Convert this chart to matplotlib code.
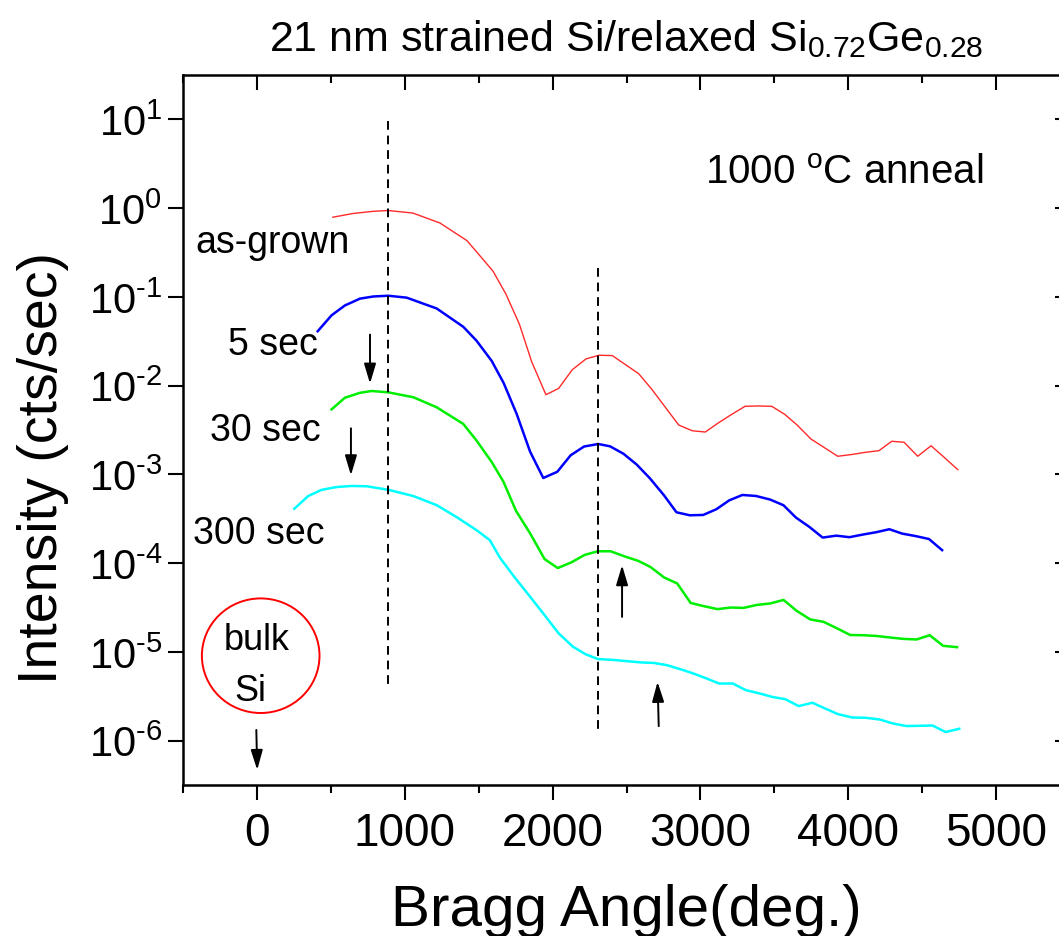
import numpy as np
import matplotlib.pyplot as plt
from matplotlib import font_manager
from matplotlib.patches import Ellipse

# шрифти
names = {f.name for f in font_manager.fontManager.ttflist}
narrow = 'Liberation Sans Narrow' if 'Liberation Sans Narrow' in names else 'Liberation Sans'
plt.rcParams['font.family'] = ['Liberation Sans', 'DejaVu Sans']
plt.rcParams['mathtext.fontset'] = 'custom'
plt.rcParams['mathtext.rm'] = 'Liberation Sans'
plt.rcParams['mathtext.default'] = 'regular'

# as-grown
x_asgrown = [514, 650, 785, 886, 1055, 1238, 1421, 1509, 1597, 1685, 1776, 1859, 1955,
             2041, 2133, 2226, 2314, 2404, 2583, 2671, 2853, 2945, 3033, 3121, 3212,
             3302, 3392, 3482, 3570, 3654, 3748, 3929, 4019, 4114, 4208, 4294, 4378,
             4470, 4560, 4650, 4741]
y_asgrown = [7.9e-1, 8.7e-1, 9.2e-1, 9.4e-1, 8.8e-1, 6.8e-1, 4.3e-1, 2.9e-1, 1.95e-1,
             1.07e-1, 4.9e-2, 1.85e-2, 7.9e-3, 9.3e-3, 1.51e-2, 2.0e-2, 2.2e-2, 2.18e-2,
             1.36e-2, 9.1e-3, 3.6e-3, 3.1e-3, 3.0e-3, 3.8e-3, 4.75e-3, 5.85e-3, 5.9e-3,
             5.85e-3, 4.75e-3, 3.6e-3, 2.5e-3, 1.6e-3, 1.67e-3, 1.77e-3, 1.85e-3,
             2.36e-3, 2.3e-3, 1.6e-3, 2.1e-3, 1.55e-3, 1.13e-3]

# 5 sec
x_5s = [411, 505, 595, 697, 787, 889, 1013, 1216, 1396, 1486, 1588, 1669, 1757, 1848,
        1937, 2032, 2122, 2213, 2309, 2389, 2479, 2569, 2659, 2754, 2838, 2928, 3019,
        3108, 3195, 3284, 3376, 3472, 3562, 3646, 3737, 3827, 3919, 4008, 4100, 4189,
        4278, 4365, 4454, 4546, 4635]
y_5s = [4.1e-2, 6.2e-2, 8.0e-2, 9.55e-2, 1.01e-1, 1.03e-1, 9.8e-2, 7.4e-2, 4.6e-2,
        3.2e-2, 1.9e-2, 1.07e-2, 4.8e-3, 1.8e-3, 9.1e-4, 1.07e-3, 1.64e-3, 2.06e-3,
        2.2e-3, 2.07e-3, 1.71e-3, 1.29e-3, 9.0e-4, 5.8e-4, 3.74e-4, 3.46e-4, 3.49e-4,
        4.05e-4, 5.1e-4, 5.86e-4, 5.71e-4, 5.2e-4, 4.49e-4, 3.26e-4, 2.56e-4, 1.94e-4,
        2.04e-4, 1.96e-4, 2.1e-4, 2.23e-4, 2.41e-4, 2.15e-4, 2.02e-4, 1.87e-4, 1.4e-4]

# 30 sec
x_30s = [505, 595, 697, 776, 889, 1058, 1216, 1396, 1486, 1588, 1667, 1752, 1849, 1946,
         2035, 2127, 2218, 2307, 2392, 2488, 2580, 2664, 2754, 2843, 2934, 3024, 3116,
         3205, 3292, 3381, 3472, 3562, 3651, 3743, 3833, 3919, 4013, 4104, 4193, 4286,
         4375, 4462, 4551, 4642, 4736]
y_30s = [5.4e-3, 7.3e-3, 8.3e-3, 8.7e-3, 8.4e-3, 7.4e-3, 5.7e-3, 3.7e-3, 2.4e-3, 1.38e-3,
         8.3e-4, 3.9e-4, 2.15e-4, 1.11e-4, 8.8e-5, 1.02e-4, 1.24e-4, 1.36e-4, 1.36e-4,
         1.19e-4, 1.06e-4, 9.0e-5, 6.9e-5, 5.9e-5, 3.56e-5, 3.27e-5, 3.03e-5, 3.16e-5,
         3.13e-5, 3.38e-5, 3.51e-5, 3.85e-5, 2.9e-5, 2.32e-5, 2.18e-5, 1.86e-5, 1.55e-5,
         1.54e-5, 1.51e-5, 1.45e-5, 1.4e-5, 1.38e-5, 1.54e-5, 1.17e-5, 1.13e-5]

# 300 sec
x_300s = [253, 347, 438, 539, 640, 742, 889, 1058, 1216, 1351, 1486, 1576, 1644, 1741,
          1849, 1946, 2042, 2139, 2223, 2307, 2416, 2506, 2601, 2686, 2771, 2862, 2954,
          3043, 3127, 3219, 3308, 3400, 3489, 3574, 3665, 3757, 3844, 3930, 4027, 4116,
          4213, 4302, 4394, 4483, 4570, 4659, 4751]
y_300s = [4.1e-4, 5.7e-4, 6.7e-4, 7.2e-4, 7.4e-4, 7.35e-4, 6.7e-4, 5.7e-4, 4.5e-4, 3.3e-4,
          2.35e-4, 1.81e-4, 1.15e-4, 7.0e-5, 4.16e-5, 2.59e-5, 1.61e-5, 1.14e-5, 9.4e-6,
          8.3e-6, 8.1e-6, 7.85e-6, 7.6e-6, 7.5e-6, 7.1e-6, 6.4e-6, 5.7e-6, 5.0e-6, 4.4e-6,
          4.4e-6, 3.7e-6, 3.4e-6, 3.1e-6, 2.93e-6, 2.45e-6, 2.67e-6, 2.3e-6, 1.99e-6,
          1.82e-6, 1.81e-6, 1.73e-6, 1.56e-6, 1.46e-6, 1.47e-6, 1.48e-6, 1.25e-6, 1.36e-6]

series_labels = ['as-grown', '5 sec', '30 sec', '300 sec']
colors = ['#ff2a2a', '#0000ff', '#00ee00', '#00ffff']
x_major = [0, 1000, 2000, 3000, 4000, 5000]
y_exponents = [1, 0, -1, -2, -3, -4, -5, -6]

fig = plt.figure(figsize=(10.59, 9.37), dpi=100)
pos = [183 / 1059, 1 - 786 / 937, 887 / 1059, 710 / 937]
ax = fig.add_axes(pos)

ax.plot(x_asgrown, y_asgrown, color=colors[0], lw=1.0)
ax.plot(x_5s, y_5s, color=colors[1], lw=1.8)
ax.plot(x_30s, y_30s, color=colors[2], lw=1.8)
ax.plot(x_300s, y_300s, color=colors[3], lw=1.8)

# пунктирні лінії
ax.plot([890, 890], [9.7, 4.2e-6], color='k', lw=1.4, dashes=(4.5, 3))
ax.plot([2307, 2307], [2.1e-1, 1.3e-6], color='k', lw=1.4, dashes=(4.5, 3))

ax.set_yscale('log')
ax.set_xlim(-500, 5500)
ax.set_ylim(10 ** -6.5, 10 ** 1.5)
ax.set_xticks(x_major)
ax.set_xticks(np.arange(-500, 5501, 1000), minor=True)
ax.set_yticks([10.0 ** e for e in y_exponents])
ax.set_yticklabels([r'$10^{%s}$' % str(e).replace('-', '\u2010') for e in y_exponents])
ax.yaxis.set_minor_locator(plt.NullLocator())

for s in ax.spines.values():
    s.set_linewidth(1.8)
ax.tick_params(axis='x', which='major', direction='out', length=11, width=1.5,
               labelsize=33, pad=8)
ax.tick_params(axis='x', which='minor', direction='out', length=6, width=1.5)
ax.tick_params(axis='y', which='major', direction='out', length=11, width=1.5,
               labelsize=30, pad=4)
for lab in ax.get_xticklabels():
    lab.set_fontfamily(narrow)

# верхні і праві засічки всередину (окрема прозора вісь)
ax2 = fig.add_axes(pos, frameon=False)
ax2.set_yscale('log')
ax2.set_xlim(ax.get_xlim())
ax2.set_ylim(ax.get_ylim())
ax2.set_xticks(x_major)
ax2.set_xticks(np.arange(-500, 5501, 1000), minor=True)
ax2.set_yticks([10.0 ** e for e in y_exponents])
ax2.yaxis.set_minor_locator(plt.NullLocator())
ax2.tick_params(which='both', bottom=False, left=False, top=True, right=True,
                labelbottom=False, labelleft=False, labeltop=False, labelright=False,
                direction='in', width=1.5)
ax2.tick_params(which='major', length=11)
ax2.tick_params(which='minor', length=6)
ax2.patch.set_visible(False)

ax.set_title(r'21 nm strained Si/relaxed Si$_{0.72}$Ge$_{0.28}$', fontsize=31,
             fontfamily=narrow, pad=18)
ax.set_xlabel('Bragg Angle(deg.)', fontsize=42, labelpad=20)
ax.set_ylabel('Intensity (cts/sec)', fontsize=40)
ax.yaxis.set_label_coords(-0.128, 0.448)

# підписи кривих
ax.text(-413, 10 ** -0.495, series_labels[0], fontsize=27, va='baseline')
ax.text(-194, 10 ** -1.648, series_labels[1], fontsize=27, va='baseline')
ax.text(-318, 10 ** -2.608, series_labels[2], fontsize=27, va='baseline')
ax.text(-431, 10 ** -3.773, series_labels[3], fontsize=27, va='baseline')
ax.text(3031, 10 ** 0.282, r'1000 $^{\mathregular{o}}$C anneal', fontsize=29, va='baseline')

# bulk Si
ax.add_patch(Ellipse((0.0876, 0.1821), 0.1326, 0.1614, transform=ax.transAxes,
                     fill=False, edgecolor='#ff0000', lw=1.4))
ax.text(2, 10 ** -4.973, 'bulk', fontsize=26, ha='center', va='baseline')
ax.text(-47, 10 ** -5.544, 'Si', fontsize=26, ha='center', va='baseline')

# стрілки
arrow = dict(arrowstyle='-|>,head_length=0.6,head_width=0.18', color='k', lw=1.4,
             mutation_scale=20, shrinkA=0, shrinkB=0)
ax.annotate('', xy=(765, 10 ** -1.977), xytext=(765, 10 ** -1.425), arrowprops=arrow)
ax.annotate('', xy=(636, 10 ** -3.01), xytext=(636, 10 ** -2.481), arrowprops=arrow)
ax.annotate('', xy=(2470, 10 ** -4.024), xytext=(2470, 10 ** -4.606), arrowprops=arrow)
ax.annotate('', xy=(2710, 10 ** -5.338), xytext=(2718, 10 ** -5.837), arrowprops=arrow)
ax.annotate('', xy=(2, 10 ** -6.33), xytext=(-4, 10 ** -5.88), arrowprops=arrow)

fig.savefig('out.png', dpi=100)
